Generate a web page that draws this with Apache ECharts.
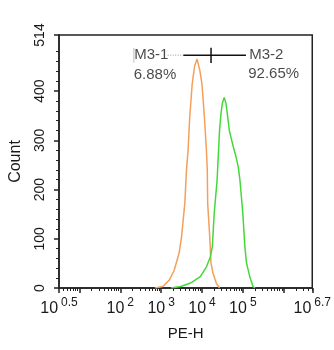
<!DOCTYPE html>
<html>
<head>
<meta charset="utf-8">
<script src="https://cdn.jsdelivr.net/npm/echarts@6/dist/echarts.min.js"></script>
<style>
html,body{margin:0;padding:0;background:#fff;}
#c{width:334px;height:350px;}
</style>
</head>
<body>
<div id="c"></div>
<script>
// x values are log10(PE-H)
const orangeX = [2.85, 3.04, 3.20, 3.32, 3.44, 3.50, 3.58, 3.62, 3.66, 3.70, 3.76, 3.82, 3.88, 3.915, 3.95, 4.00, 4.06, 4.11, 4.13, 4.14, 4.19, 4.22, 4.27, 4.35, 4.43];
const orangeY = [0, 3, 16, 36, 71, 104, 172, 239, 279, 347, 414, 451, 465, 461, 441, 414, 347, 279, 239, 172, 104, 51, 30, 10, 0];
const greenX = [3.24, 3.48, 3.72, 3.96, 4.11, 4.205, 4.254, 4.30, 4.37, 4.41, 4.43, 4.465, 4.50, 4.545, 4.59, 4.62, 4.67, 4.71, 4.77, 4.835, 4.89, 4.93, 5.00, 5.05, 5.09, 5.17, 5.25, 5.30];
const greenY = [0, 3, 10, 23, 43, 63, 84, 152, 219, 286, 320, 354, 376, 387, 374, 354, 320, 306, 286, 266, 245, 219, 152, 84, 51, 23, 3, 0];
const xTickValues = [0.5, 2, 3, 4, 5, 6.7];
const xTickLabels = ['0.5', '2', '3', '4', '5', '6.7'];
const xMajorTicks = [0.5, 1, 2, 3, 4, 5, 6, 6.7];
const yTickValues = [0, 100, 200, 300, 400, 514];
const gateNames = ['M3-1', 'M3-2'];
const gatePercents = ['6.88%', '92.65%'];
const gateLine = [[3.544, 473], [5.077, 473]];
const gateDivider = [[4.222, 488], [4.222, 457]];
const gateDotted = [[3.16, 473], [3.544, 473]];
const gateLeftEnd = [[2.333, 488], [2.333, 458]];
const gateNamePos = [[2.34, 473], [5.157, 473]];
const gatePctPos = [[2.33, 434], [5.133, 435]];

const xMinor = [];
for (let d = 0; d <= 6; d++) {
  for (let k = 2; k <= 9; k++) {
    const v = d + Math.log10(k);
    if (v > 0.5 && v < 6.7) xMinor.push(+v.toFixed(4));
  }
}
const yMinor = [];
for (let v = 20; v <= 500; v += 20) if (v % 100 !== 0) yMinor.push(v);

const FONT = 'Liberation Sans, Arial, sans-serif';
const TXT = '#1a1a1a';
const AX = '#222';
const zip = (a, b) => a.map((v, i) => [v, b[i]]);

const chart = echarts.init(document.getElementById('c'), null, {renderer: 'canvas'});
const xBase = {type: 'value', min: 0.5, max: 6.7, position: 'bottom', offset: 0, splitLine: {show: false}};
const yBase = {type: 'value', min: 0, max: 514, position: 'left', offset: 0, splitLine: {show: false}};
chart.setOption({
  animation: false,
  grid: {left: 57, right: 21, top: 35, bottom: 62, show: true, borderColor: AX, borderWidth: 1.5, containLabel: false},
  xAxis: [
    Object.assign({}, xBase, {
      name: 'PE-H', nameLocation: 'middle', nameGap: 38,
      nameTextStyle: {fontFamily: FONT, fontSize: 15, color: TXT},
      axisLine: {show: true, lineStyle: {color: AX, width: 1.5}},
      axisTick: {show: true, length: 5, customValues: xMajorTicks, lineStyle: {color: AX, width: 1.5}},
      axisLabel: {
        show: true, margin: 11, customValues: xTickValues,
        formatter: function (v) {
          let idx = xTickValues.findIndex(t => Math.abs(t - v) < 1e-6);
          return '{b|10}{s|' + xTickLabels[idx] + '}';
        },
        rich: {
          b: {fontFamily: FONT, fontSize: 16, color: TXT, lineHeight: 18, verticalAlign: 'bottom'},
          s: {fontFamily: FONT, fontSize: 12, color: TXT, lineHeight: 12, padding: [0, 0, 8, 3], verticalAlign: 'bottom'}
        }
      }
    }),
    Object.assign({}, xBase, {
      axisLine: {show: false},
      axisTick: {show: true, length: 3, customValues: xMinor, lineStyle: {color: AX, width: 1}},
      axisLabel: {show: false}
    })
  ],
  yAxis: [
    Object.assign({}, yBase, {
      name: 'Count', nameLocation: 'middle', nameGap: 35, nameRotate: 90,
      nameTextStyle: {fontFamily: FONT, fontSize: 16, color: TXT},
      axisLine: {show: true, lineStyle: {color: AX, width: 1.5}},
      axisTick: {show: true, length: 5, customValues: yTickValues, lineStyle: {color: AX, width: 1.5}},
      axisLabel: {show: true, rotate: 90, margin: 12, customValues: yTickValues, fontFamily: FONT, fontSize: 14, color: TXT}
    }),
    Object.assign({}, yBase, {
      axisLine: {show: false},
      axisTick: {show: true, length: 3, customValues: yMinor, lineStyle: {color: AX, width: 1}},
      axisLabel: {show: false}
    })
  ],
  series: [
    {type: 'line', data: zip(orangeX, orangeY), symbol: 'none', lineStyle: {color: '#F2A05C', width: 1.5}, z: 3},
    {type: 'line', data: zip(greenX, greenY), symbol: 'none', lineStyle: {color: '#45D83A', width: 1.5}, z: 3},
    {type: 'line', data: gateDotted, symbol: 'none', lineStyle: {color: '#999', width: 1, type: [1, 1.5]}, z: 4},
    {type: 'line', data: gateLeftEnd, symbol: 'none', lineStyle: {color: '#bbb', width: 1}, z: 4},
    {type: 'line', data: gateLine, symbol: 'none', lineStyle: {color: '#111', width: 1.5}, z: 5},
    {type: 'line', data: gateDivider, symbol: 'none', lineStyle: {color: '#111', width: 1.5}, z: 5},
    {
      type: 'scatter', symbolSize: 0, z: 6,
      data: gateNamePos.map((p, i) => ({value: p, name: gateNames[i]})),
      label: {show: true, position: 'right', distance: 0, formatter: p => p.name, fontFamily: FONT, fontSize: 15, color: TXT}
    },
    {
      type: 'scatter', symbolSize: 0, z: 6,
      data: gatePctPos.map((p, i) => ({value: p, name: gatePercents[i]})),
      label: {show: true, position: 'right', distance: 0, formatter: p => p.name, fontFamily: FONT, fontSize: 15, color: TXT}
    }
  ]
});
</script>
</body>
</html>
